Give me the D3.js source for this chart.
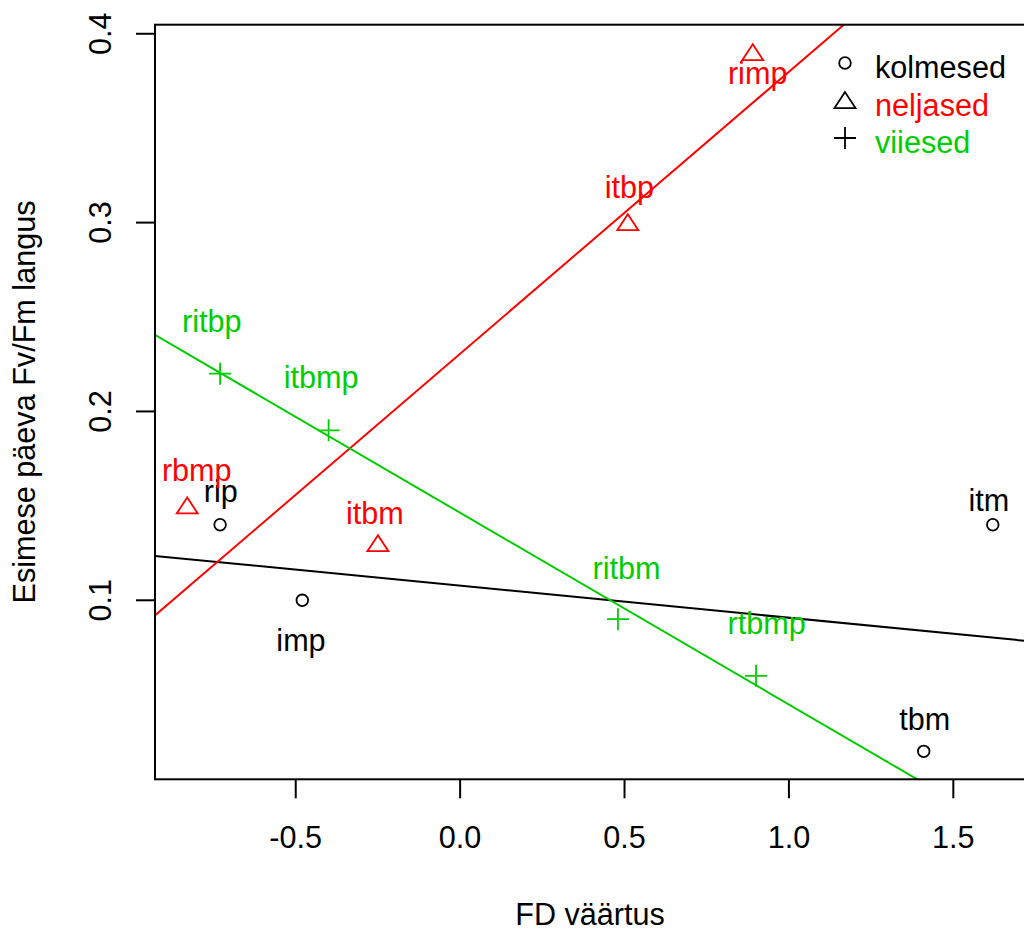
<!DOCTYPE html>
<html>
<head>
<meta charset="utf-8">
<style>
    body { margin: 0; background: #fff; }
    svg { font-family: 'Liberation Sans', Arial, sans-serif; }
</style>
</head>
<body>
<svg width="1024" height="931"></svg>
<script src="https://d3js.org/d3.v7.min.js"></script>
<script>
    // groups
    let groups = ["kolmesed", "neljased", "viiesed"];
    let groupColors = ["#000000", "#ff0000", "#00cd00"];
    let groupShapes = ["circle", "triangle", "plus"];

    // points (FD väärtus, Fv/Fm langus)
    let names  = ["rip", "imp", "itm", "tbm", "rbmp", "itbm", "itbp", "rimp", "ritbp", "itbmp", "ritbm", "rtbmp"];
    let group  = [0, 0, 0, 0, 1, 1, 1, 1, 2, 2, 2, 2];
    let fd     = [-0.73, -0.48, 1.62, 1.41, -0.83, -0.25, 0.51, 0.89, -0.73, -0.40, 0.48, 0.90];
    let langus = [0.14, 0.10, 0.14, 0.02, 0.15, 0.13, 0.30, 0.39, 0.22, 0.19, 0.09, 0.06];

    // where the text labels sit (data units)
    let labelX = [-0.728, -0.484, 1.608, 1.413, -0.801, -0.259, 0.515, 0.905, -0.755, -0.423, 0.506, 0.932];
    let labelY = [0.158, 0.079, 0.153, 0.037, 0.169, 0.146, 0.319, 0.379, 0.248, 0.218, 0.117, 0.088];

    let xTicks = [-0.5, 0.0, 0.5, 1.0, 1.5];
    let yTicks = [0.1, 0.2, 0.3, 0.4];

    let svg = d3.select("svg");
    let pLeft = 155, pRight = 1025, pTop = 24.7, pBottom = 779.3;
    let fs = 30.6;
    let fmt = t => d3.format(".1f")(t).replace("\u2212", "-");

    // R style 4% padding
    let xe = d3.extent(fd), ye = d3.extent(langus);
    let xp = (xe[1] - xe[0]) * 0.04, yp = (ye[1] - ye[0]) * 0.04;
    let x = d3.scaleLinear().domain([xe[0] - xp, xe[1] + xp]).range([pLeft, pRight]);
    let y = d3.scaleLinear().domain([ye[0] - yp, ye[1] + yp]).range([pBottom, pTop]);

    svg.append("clipPath").attr("id", "clip")
        .append("rect")
        .attr("x", pLeft).attr("y", pTop)
        .attr("width", pRight - pLeft).attr("height", pBottom - pTop);

    // regression lines per group
    let plotArea = svg.append("g").attr("clip-path", "url(#clip)");
    groups.forEach((g, gi) => {
        let xs = fd.filter((d, i) => group[i] === gi);
        let ys = langus.filter((d, i) => group[i] === gi);
        let mx = d3.mean(xs), my = d3.mean(ys);
        let sxy = d3.sum(xs, (d, i) => (d - mx) * (ys[i] - my));
        let sxx = d3.sum(xs, d => (d - mx) * (d - mx));
        let b = sxy / sxx, a = my - b * mx;
        let x0 = x.domain()[0] - 1, x1 = x.domain()[1] + 1;
        plotArea.append("line")
            .attr("x1", x(x0)).attr("y1", y(a + b * x0))
            .attr("x2", x(x1)).attr("y2", y(a + b * x1))
            .attr("stroke", groupColors[gi])
            .attr("stroke-width", 2);
    });

    function drawSymbol(sel, shape, cx, cy, color) {
        if (shape === "circle") {
            sel.append("circle").attr("cx", cx).attr("cy", cy).attr("r", 5.8)
                .attr("fill", "none").attr("stroke", color).attr("stroke-width", 1.8);
        } else if (shape === "triangle") {
            let s = 10.5;
            let pts = [[cx, cy - s * 0.8], [cx - s, cy + s * 0.72], [cx + s, cy + s * 0.72]];
            sel.append("polygon").attr("points", pts.map(p => p.join(",")).join(" "))
                .attr("fill", "none").attr("stroke", color).attr("stroke-width", 1.8);
        } else {
            let s = 11;
            sel.append("path")
                .attr("d", `M${cx - s},${cy}H${cx + s}M${cx},${cy - s}V${cy + s}`)
                .attr("fill", "none").attr("stroke", color).attr("stroke-width", 1.8);
        }
    }

    // points
    names.forEach((n, i) => {
        drawSymbol(svg, groupShapes[group[i]], x(fd[i]), y(langus[i]), groupColors[group[i]]);
    });

    // labels
    svg.selectAll(".lab")
        .data(names)
        .join("text")
        .attr("class", "lab")
        .attr("x", (d, i) => x(labelX[i]))
        .attr("y", (d, i) => y(labelY[i]))
        .attr("text-anchor", "middle")
        .attr("dy", "0.36em")
        .style("font-size", fs + "px")
        .style("fill", (d, i) => groupColors[group[i]])
        .text(d => d);

    // box
    svg.append("rect")
        .attr("x", pLeft).attr("y", pTop)
        .attr("width", pRight - pLeft).attr("height", pBottom - pTop)
        .attr("fill", "none").attr("stroke", "#000").attr("stroke-width", 2);

    // x axis
    xTicks.forEach(t => {
        svg.append("line")
            .attr("x1", x(t)).attr("x2", x(t))
            .attr("y1", pBottom).attr("y2", pBottom + 19)
            .attr("stroke", "#000").attr("stroke-width", 2);
        svg.append("text")
            .attr("x", x(t)).attr("y", 848)
            .attr("text-anchor", "middle")
            .style("font-size", fs + "px")
            .text(fmt(t));
    });

    // y axis
    yTicks.forEach(t => {
        svg.append("line")
            .attr("x1", pLeft - 19).attr("x2", pLeft)
            .attr("y1", y(t)).attr("y2", y(t))
            .attr("stroke", "#000").attr("stroke-width", 2);
        svg.append("text")
            .attr("transform", `translate(111,${y(t)}) rotate(-90)`)
            .attr("text-anchor", "middle")
            .style("font-size", fs + "px")
            .text(fmt(t));
    });

    // axis titles
    svg.append("text")
        .attr("x", (pLeft + pRight) / 2).attr("y", 925)
        .attr("text-anchor", "middle")
        .style("font-size", fs + "px")
        .text("FD väärtus");

    svg.append("text")
        .attr("transform", `translate(35,${(pTop + pBottom) / 2}) rotate(-90)`)
        .attr("text-anchor", "middle")
        .style("font-size", fs + "px")
        .text("Esimese päeva Fv/Fm langus");

    // legend
    groups.forEach((g, gi) => {
        let by = 78 + gi * 37.5;
        drawSymbol(svg, groupShapes[gi], 845, by - 15, "#000");
        svg.append("text")
            .attr("x", 875).attr("y", by)
            .style("font-size", fs + "px")
            .style("fill", groupColors[gi])
            .text(g);
    });
</script>
</body>
</html>
